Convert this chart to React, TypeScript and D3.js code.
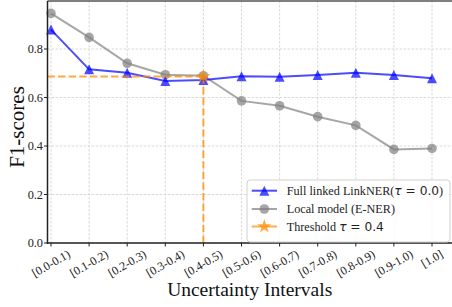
import React from "react";
import * as d3 from "d3";

const categories = ["[0.0-0.1)", "[0.1-0.2)", "[0.2-0.3)", "[0.3-0.4)", "[0.4-0.5)", "[0.5-0.6)", "[0.6-0.7)", "[0.7-0.8)", "[0.8-0.9)", "[0.9-1.0)", "[1.0]"];
const linkNER = [0.88, 0.716, 0.702, 0.668, 0.672, 0.688, 0.686, 0.693, 0.702, 0.693, 0.679];
const localModel = [0.947, 0.848, 0.741, 0.694, 0.690, 0.586, 0.566, 0.521, 0.485, 0.386, 0.390];
const thresholdIndex = 4;
const thresholdValue = 0.687;
const yTicks = [0.0, 0.2, 0.4, 0.6, 0.8];

const W = 452, H = 307;
const left = 47.5, right = 452, top = 1, bottom = 243;
const serif = "'Liberation Serif', 'Times New Roman', serif";
const sans = "'DejaVu Sans', sans-serif";
const BLUE = "blue", GRAY = "gray", ORANGE = "#ff8c00";

const charW: Record<string, number> = { "[": 0.333, "]": 0.333, "(": 0.333, ")": 0.333, ".": 0.25, "-": 0.333 };
const textW = (s: string, fs: number) => s.split("").reduce((a, c) => a + (charW[c] ?? 0.5), 0) * fs;

const tri = (r: number) => `M0,${-r}L${-r},${r}L${r},${r}Z`;
const star = (R: number) => {
  const r = R * 0.382;
  const pts: string[] = [];
  for (let i = 0; i < 10; i++) {
    const a = -Math.PI / 2 + (i * Math.PI) / 5;
    const rr = i % 2 === 0 ? R : r;
    pts.push(`${(rr * Math.cos(a)).toFixed(2)},${(rr * Math.sin(a)).toFixed(2)}`);
  }
  return "M" + pts.join("L") + "Z";
};

export default function App() {
  const x = d3.scalePoint<string>().domain(categories).range([51, 432]);
  const y = d3.scaleLinear().domain([0, 1]).range([bottom, bottom - 242.5]);
  const line = d3.line<number>().x((_, i) => x(categories[i])!).y((d) => y(d));
  const tx = x(categories[thresholdIndex])!;
  const ty = y(thresholdValue);
  const xfs = 12;

  return (
    <svg width={W} height={H} style={{ position: "absolute", left: 0, top: 0, background: "white" }}>
      {/* grid */}
      <g stroke="#cfcfcf" strokeWidth={0.8} strokeDasharray="2.5,1.5">
        {categories.map((c) => (
          <line key={c} x1={x(c)} x2={x(c)} y1={top} y2={bottom} />
        ))}
        {yTicks.map((t) => (
          <line key={t} x1={left} x2={right} y1={y(t)} y2={y(t)} />
        ))}
      </g>
      {/* series */}
      <path d={line(localModel)!} fill="none" stroke={GRAY} strokeWidth={2} opacity={0.7} />
      {localModel.map((v, i) => (
        <circle key={i} cx={x(categories[i])} cy={y(v)} r={4.8} fill={GRAY} opacity={0.7} />
      ))}
      <path d={line(linkNER)!} fill="none" stroke={BLUE} strokeWidth={2} opacity={0.7} />
      {linkNER.map((v, i) => (
        <path key={i} d={tri(5)} transform={`translate(${x(categories[i])},${y(v)})`} fill={BLUE} opacity={0.7} />
      ))}
      {/* threshold */}
      <g stroke={ORANGE} strokeWidth={2} strokeDasharray="7.4,3.2" opacity={0.75}>
        <line x1={left} x2={tx} y1={ty} y2={ty} />
        <line x1={tx} x2={tx} y1={ty} y2={bottom} />
      </g>
      <path d={star(7.5)} transform={`translate(${tx},${ty})`} fill={ORANGE} opacity={0.75} />
      {/* spines */}
      <line x1={left} x2={right} y1={top} y2={top} stroke="#555" strokeWidth={1.6} />
      <line x1={left} x2={left} y1={top} y2={bottom + 0.8} stroke="#222" strokeWidth={1.5} />
      <line x1={left - 0.75} x2={right} y1={bottom} y2={bottom} stroke="#222" strokeWidth={1.5} />
      {/* y ticks */}
      {yTicks.map((t) => (
        <g key={t}>
          <line x1={left - 3.5} x2={left} y1={y(t)} y2={y(t)} stroke="#222" strokeWidth={1} />
          <text x={43} y={y(t)} dy="0.35em" textAnchor="end" fontFamily={serif} fontSize={12.3} fill="#222">
            {t.toFixed(1)}
          </text>
        </g>
      ))}
      {/* x ticks */}
      {categories.map((c) => {
        const w = textW(c, xfs);
        const cy = 247.5 + (w * 0.5 + xfs * 0.95) / 2;
        return (
          <g key={c}>
            <line x1={x(c)} x2={x(c)} y1={bottom} y2={bottom + 3.5} stroke="#222" strokeWidth={1} />
            <text
              transform={`translate(${x(c)},${cy}) rotate(-30)`}
              textAnchor="middle"
              dy="0.32em"
              fontFamily={serif}
              fontSize={xfs}
              fill="#222"
            >
              {c}
            </text>
          </g>
        );
      })}
      {/* axis labels */}
      <text x={249.7} y={296} textAnchor="middle" fontFamily={serif} fontSize={19.5} fill="#111">
        Uncertainty Intervals
      </text>
      <text transform="translate(24,127) rotate(-90)" textAnchor="middle" fontFamily={serif} fontSize={21} fill="#111">
        F1-scores
      </text>
      {/* legend */}
      <rect x={247} y={180} width={203} height={62} rx={3} fill="white" fillOpacity={0.8} stroke="#d0d0d0" strokeWidth={1} />
      {[
        { label: "Full linked LinkNER(", math: "τ", rest: " = 0.0", tail: ")", color: BLUE, kind: "tri", yy: 190.7 },
        { label: "Local model (E-NER)", math: "", rest: "", tail: "", color: GRAY, kind: "circle", yy: 209 },
        { label: "Threshold ", math: "τ", rest: " = 0.4", tail: "", color: ORANGE, kind: "star", yy: 226.5 },
      ].map((e) => (
        <g key={e.label}>
          <line x1={251.7} x2={277} y1={e.yy} y2={e.yy} stroke={e.color} strokeWidth={2} opacity={0.7} />
          {e.kind === "tri" && <path d={tri(5)} transform={`translate(264.3,${e.yy})`} fill={e.color} opacity={0.7} />}
          {e.kind === "circle" && <circle cx={264.3} cy={e.yy} r={4.8} fill={e.color} opacity={0.7} />}
          {e.kind === "star" && <path d={star(7.5)} transform={`translate(264.3,${e.yy})`} fill={e.color} opacity={0.75} />}
          <text x={286.7} y={e.yy} dy="0.35em" fontFamily={serif} fontSize={12.2} fill="#222">
            {e.label}
            {e.math && (
              <tspan fontFamily={sans} fontStyle="italic">
                {e.math}
              </tspan>
            )}
            {e.rest && <tspan fontFamily={sans}>{e.rest}</tspan>}
            {e.tail && <tspan>{e.tail}</tspan>}
          </text>
        </g>
      ))}
    </svg>
  );
}
